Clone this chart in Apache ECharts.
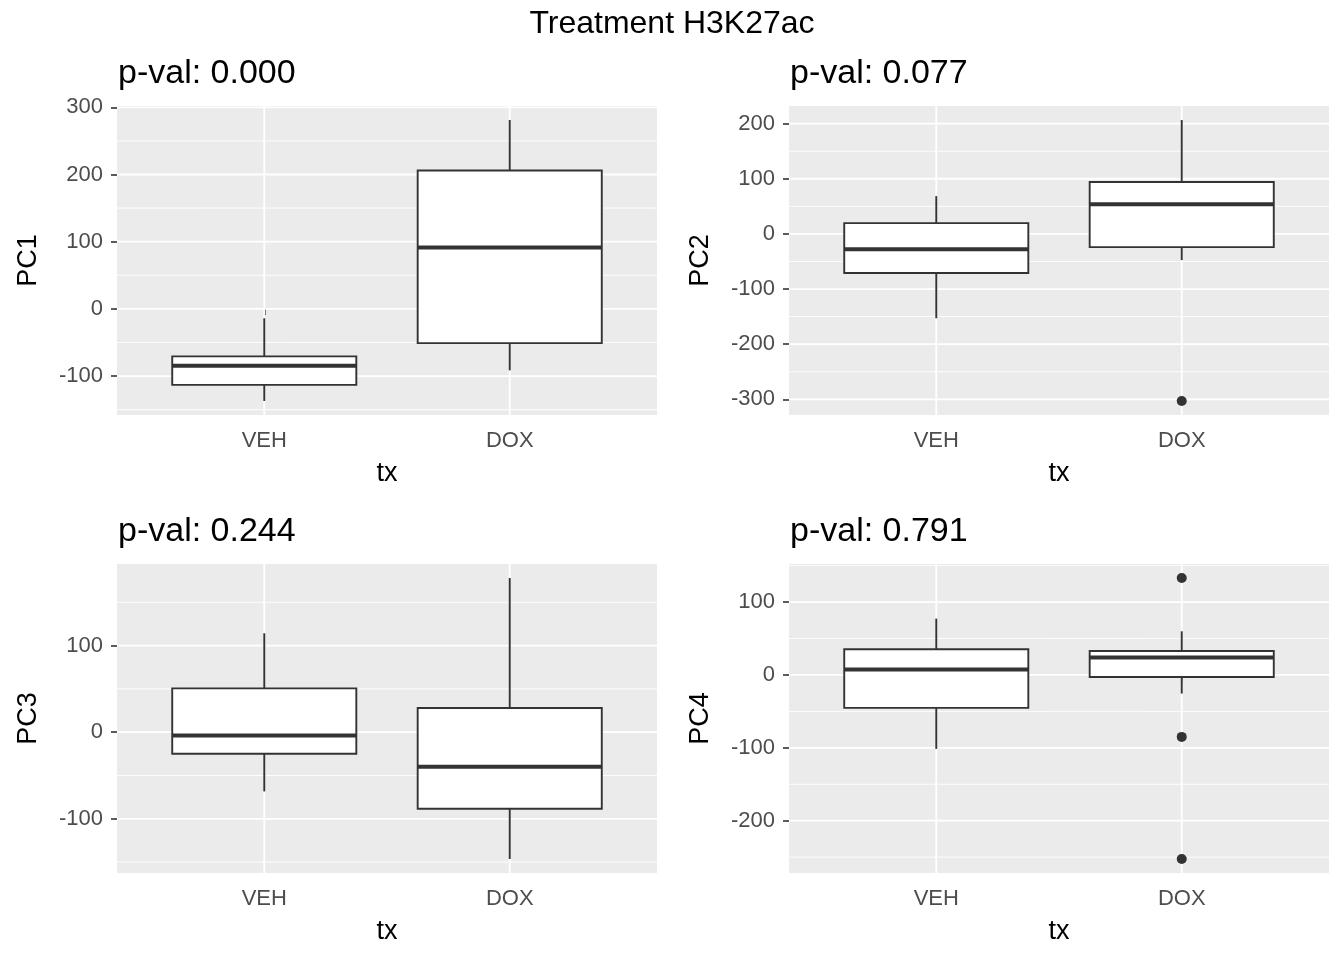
<!DOCTYPE html>
<html>
<head>
<meta charset="utf-8">
<script src="https://cdn.jsdelivr.net/npm/echarts@6/dist/echarts.min.js"></script>
<style>
html,body{margin:0;padding:0;background:#fff;}
#chart{width:1344px;height:960px;}
</style>
</head>
<body>
<div id="chart"></div>
<script>
// ---- data ----
const mainTitle = 'Treatment H3K27ac';
const categories = ['VEH', 'DOX'];
const xTitle = 'tx';
const pcNames = ['PC1', 'PC2', 'PC3', 'PC4'];
const pvalTitles = ['p-val: 0.000', 'p-val: 0.077', 'p-val: 0.244', 'p-val: 0.791'];

// box stats per category: [lower whisker, Q1, median, Q3, upper whisker]
const pc1Boxes = [[-137, -113, -84.5, -70.6, -14], [-91.5, -51, 91.5, 206, 281]];
const pc2Boxes = [[-153, -71, -28, 19.5, 68.5], [-47.5, -24, 54, 94, 206.5]];
const pc3Boxes = [[-68.4, -24.9, -3.7, 50.6, 114.2], [-146.4, -88.4, -39.9, 27.9, 178]];
const pc4Boxes = [[-101.5, -45.2, 7.4, 35.2, 77.3], [-25.5, -2.7, 23.8, 32.9, 59.9]];

// outliers per category
const pc1Outliers = [[], []];
const pc2Outliers = [[], [-303]];
const pc3Outliers = [[], []];
const pc4Outliers = [[], [133, -85, -252.5]];

// y tick labels and minor breaks
const pc1Ticks = [-100, 0, 100, 200, 300];
const pc2Ticks = [-300, -200, -100, 0, 100, 200];
const pc3Ticks = [-100, 0, 100];
const pc4Ticks = [-200, -100, 0, 100];
const pc1Minor = [-150, -50, 50, 150, 250];
const pc2Minor = [-250, -150, -50, 50, 150];
const pc3Minor = [-150, -50, 50, 150];
const pc4Minor = [-250, -150, -50, 50, 150];

// ---- build ----
const boxesAll = [pc1Boxes, pc2Boxes, pc3Boxes, pc4Boxes];
const outliersAll = [pc1Outliers, pc2Outliers, pc3Outliers, pc4Outliers];
const ticksAll = [pc1Ticks, pc2Ticks, pc3Ticks, pc4Ticks];
const minorAll = [pc1Minor, pc2Minor, pc3Minor, pc4Minor];

const FONT = '"Liberation Sans", Arial, sans-serif';
const DARK = '#333333';
const panelW = 540, panelH = 309;
const lefts = [117, 789, 117, 789];
const tops = [106, 106, 564, 564];

function dataRange(boxes, outs) {
  let lo = Infinity, hi = -Infinity;
  boxes.forEach(b => b.forEach(v => { lo = Math.min(lo, v); hi = Math.max(hi, v); }));
  outs.forEach(o => o.forEach(v => { lo = Math.min(lo, v); hi = Math.max(hi, v); }));
  const pad = (hi - lo) * 0.05;
  return [lo - pad, hi + pad];
}

const grids = [], xAxes = [], yAxes = [], series = [], graphics = [];

graphics.push({
  type: 'text', x: 672, y: 24,
  style: { text: mainTitle, font: '32px ' + FONT, fill: '#000', align: 'center', verticalAlign: 'middle' }
});

for (let i = 0; i < 4; i++) {
  const rng = dataRange(boxesAll[i], outliersAll[i]);
  grids.push({
    left: lefts[i], top: tops[i], width: panelW, height: panelH,
    show: true, backgroundColor: '#EBEBEB', borderWidth: 0
  });
  xAxes.push({
    type: 'value', gridIndex: i, min: 0.4, max: 2.6,
    name: xTitle, nameLocation: 'middle', nameGap: 45,
    nameTextStyle: { fontFamily: FONT, fontSize: 27, color: '#000' },
    axisLine: { show: false },
    axisTick: { show: true, length: 6, customValues: [1, 2], lineStyle: { color: DARK, width: 1.6 } },
    axisLabel: {
      customValues: [1, 2], margin: 15, fontFamily: FONT, fontSize: 22, color: '#4D4D4D',
      formatter: v => categories[Math.round(v) - 1] || ''
    },
    splitLine: { show: false }
  });
  yAxes.push({
    type: 'value', gridIndex: i, min: rng[0], max: rng[1],
    name: pcNames[i], nameLocation: 'middle', nameGap: 75, nameRotate: 90,
    nameTextStyle: { fontFamily: FONT, fontSize: 27, color: '#000' },
    axisLine: { show: false },
    axisTick: { show: true, length: 6, customValues: ticksAll[i], lineStyle: { color: DARK, width: 1.6 } },
    axisLabel: { customValues: ticksAll[i], margin: 14, fontFamily: FONT, fontSize: 22, color: '#4D4D4D' },
    splitLine: { show: false }
  });

  // grid lines: [value, kind] kind 0 = minor horizontal, 1 = major horizontal, 2 = vertical
  const gridData = [];
  minorAll[i].forEach(v => gridData.push([v, 0]));
  ticksAll[i].forEach(v => gridData.push([v, 1]));
  categories.forEach((c, k) => gridData.push([k + 1, 2]));
  series.push({
    type: 'custom', xAxisIndex: i, yAxisIndex: i, silent: true, z: 1,
    data: gridData,
    renderItem: function (params, api) {
      const cs = params.coordSys;
      const v = api.value(0), kind = api.value(1);
      if (kind === 2) {
        const px = api.coord([v, rng[0]])[0];
        return { type: 'line', shape: { x1: px, y1: cs.y, x2: px, y2: cs.y + cs.height },
          style: { stroke: '#FFFFFF', lineWidth: 1.8 } };
      }
      const py = api.coord([1, v])[1];
      if (py < cs.y - 0.5 || py > cs.y + cs.height + 0.5) return null;
      return { type: 'line', shape: { x1: cs.x, y1: py, x2: cs.x + cs.width, y2: py },
        style: { stroke: '#FFFFFF', lineWidth: kind === 1 ? 1.8 : 0.9 } };
    }
  });

  // boxes
  const boxData = categories.map((c, k) => [k + 1].concat(boxesAll[i][k]));
  series.push({
    type: 'custom', xAxisIndex: i, yAxisIndex: i, silent: true, z: 3,
    data: boxData,
    renderItem: function (params, api) {
      const x = api.value(0);
      const cx = api.coord([x, 0])[0];
      const hw = api.size([0.75, 0])[0] / 2;
      const yLo = api.coord([x, api.value(1)])[1];
      const yQ1 = api.coord([x, api.value(2)])[1];
      const yMed = api.coord([x, api.value(3)])[1];
      const yQ3 = api.coord([x, api.value(4)])[1];
      const yHi = api.coord([x, api.value(5)])[1];
      const st = { stroke: DARK, lineWidth: 1.9 };
      return {
        type: 'group',
        children: [
          { type: 'line', shape: { x1: cx, y1: yHi, x2: cx, y2: yQ3 }, style: st },
          { type: 'line', shape: { x1: cx, y1: yQ1, x2: cx, y2: yLo }, style: st },
          { type: 'rect', shape: { x: cx - hw, y: yQ3, width: 2 * hw, height: yQ1 - yQ3 },
            style: { fill: '#FFFFFF', stroke: DARK, lineWidth: 1.9 } },
          { type: 'line', shape: { x1: cx - hw, y1: yMed, x2: cx + hw, y2: yMed },
            style: { stroke: DARK, lineWidth: 4 } }
        ]
      };
    }
  });

  // outliers
  const outData = [];
  outliersAll[i].forEach((arr, k) => arr.forEach(v => outData.push([k + 1, v])));
  series.push({
    type: 'scatter', xAxisIndex: i, yAxisIndex: i, silent: true, z: 4,
    symbol: 'circle', symbolSize: 10, data: outData,
    itemStyle: { color: DARK, opacity: 1 }
  });

  graphics.push({
    type: 'text', x: lefts[i] + 1, y: tops[i] - 32,
    style: { text: pvalTitles[i], font: '34px ' + FONT, fill: '#000', align: 'left', verticalAlign: 'middle' }
  });
}

const chart = echarts.init(document.getElementById('chart'), null, { renderer: 'canvas' });
chart.setOption({
  animation: false,
  backgroundColor: '#FFFFFF',
  grid: grids,
  xAxis: xAxes,
  yAxis: yAxes,
  series: series,
  graphic: graphics
});
</script>
</body>
</html>
